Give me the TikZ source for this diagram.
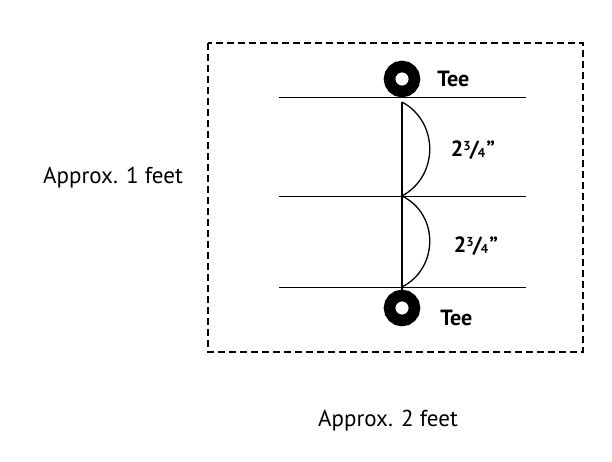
\documentclass[tikz,border=0pt]{standalone}
\usepackage{fontspec}
\setmainfont{PT Sans}
\usepackage{tikz}
\usetikzlibrary{positioning,calc}

\newcommand{\gapfrac}{2\raisebox{0.55ex}{\fontsize{13}{13}\selectfont 3}\kern-0.04em/\kern-0.04em\raisebox{-0.1ex}{\fontsize{13}{13}\selectfont 4}\kern0.05em''}

\begin{document}
\begin{tikzpicture}[x=1pt,y=-1pt,
  every node/.style={inner sep=0pt},
  tee/.style={draw=black,circle,line width=11.5pt,minimum size=25pt},
  teetext/.style={font=\fontsize{22}{22}\selectfont\bfseries},
  gaptext/.style={font=\fontsize{22}{22}\selectfont\bfseries},
  sizetext/.style={font=\fontsize{23}{23}\selectfont},
  guide/.style={line width=0.9pt},
  span/.style={line width=1.3pt}
]
\useasboundingbox (0,0) rectangle (612,462);

% the frame
\draw[line width=1.6pt,dash pattern=on 7pt off 4pt] (208,43) rectangle (583,352);

% the lines
\coordinate (l1a) at (279,97);  \coordinate (l1b) at (526,97);
\coordinate (l2a) at (279,196); \coordinate (l2b) at (526,196);
\coordinate (l3a) at (279,287); \coordinate (l3b) at (526,287);
\draw[guide] (l1a) -- (l1b);
\draw[guide] (l2a) -- (l2b);
\draw[guide] (l3a) -- (l3b);

% the tees
\node[tee] (t1) at (402,79) {};
\node[tee] (t2) at (402,308) {};
\node[teetext,right=17pt of t1] (n1) {Tee};
\node[teetext,right=20pt of t2,yshift=-10pt] (n2) {Tee};

% the span
\coordinate (p1) at (402,102);
\coordinate (p2) at (402,196);
\coordinate (p3) at (402,287);
\draw[span] (p1) -- (t2);
\draw[span] (p1) .. controls (439,122) and (439,176) .. (p2);
\draw[span] (p2) .. controls (439,214) and (439,268) .. (p3);

% the labels
\node[gaptext] (g1) at (473,150) {\gapfrac};
\node[gaptext] (g2) at (476,246) {\gapfrac};
\node[sizetext] (s1) at (113,178) {Approx. 1 feet};
\node[sizetext] (s2) at (388,421) {Approx. 2 feet};
\end{tikzpicture}
\end{document}
